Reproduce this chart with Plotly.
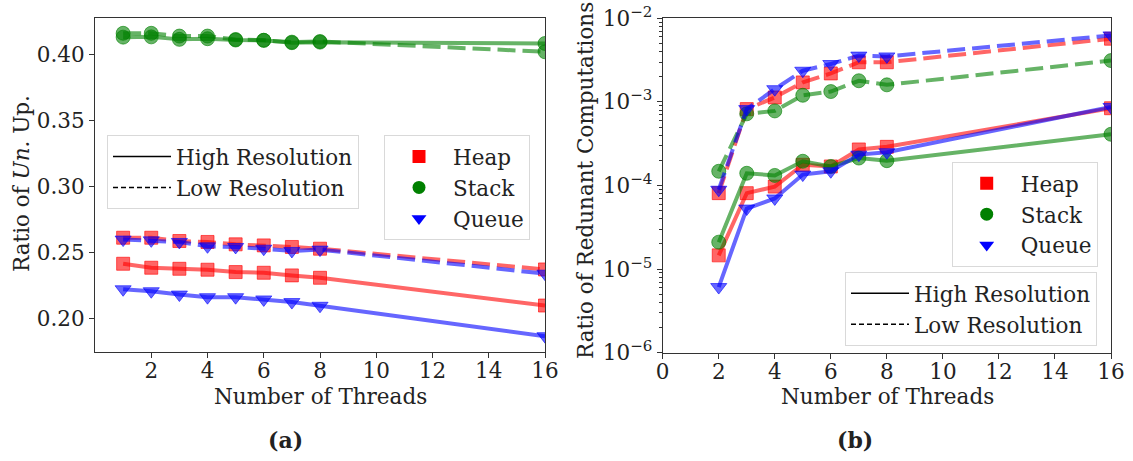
import plotly.graph_objects as go

# ---------------- data ----------------
threads_a = [1, 2, 3, 4, 5, 6, 7, 8, 16]
heap_high_a = [0.2413, 0.2383, 0.2375, 0.2368, 0.2350, 0.2345, 0.2325, 0.2307, 0.2097]
heap_low_a = [0.2610, 0.2610, 0.2585, 0.2578, 0.2560, 0.2552, 0.2540, 0.2527, 0.2370]
stack_high_a = [0.4128, 0.4130, 0.4111, 0.4116, 0.4106, 0.4104, 0.4086, 0.4090, 0.4080]
stack_low_a = [0.4157, 0.4157, 0.4136, 0.4136, 0.4110, 0.4104, 0.4090, 0.4095, 0.4017]
queue_high_a = [0.2220, 0.2205, 0.2180, 0.2160, 0.2160, 0.2143, 0.2123, 0.2095, 0.1865]
queue_low_a = [0.2596, 0.2590, 0.2578, 0.2545, 0.2540, 0.2527, 0.2510, 0.2520, 0.2338]

threads_b = [2, 3, 4, 5, 6, 7, 8, 16]
heap_high_b = [1.46e-5, 8.1e-5, 9.7e-5, 1.77e-4, 1.69e-4, 2.7e-4, 2.9e-4, 8.4e-4]
stack_high_b = [2.1e-5, 1.4e-4, 1.32e-4, 1.95e-4, 1.69e-4, 2.13e-4, 1.98e-4, 4.1e-4]
queue_high_b = [6.1e-6, 5.3e-5, 7.0e-5, 1.35e-4, 1.48e-4, 2.34e-4, 2.5e-4, 8.7e-4]
heap_low_b = [8.1e-5, 8.2e-4, 1.13e-3, 1.71e-3, 2.19e-3, 2.98e-3, 2.98e-3, 5.7e-3]
stack_low_b = [1.48e-4, 7.2e-4, 7.8e-4, 1.2e-3, 1.33e-3, 1.79e-3, 1.6e-3, 3.12e-3]
queue_low_b = [8.9e-5, 8.2e-4, 1.42e-3, 2.36e-3, 2.84e-3, 3.58e-3, 3.5e-3, 6.24e-3]

xticks_a = [2, 4, 6, 8, 10, 12, 14, 16]
xticks_b = [0, 2, 4, 6, 8, 10, 12, 14, 16]
yticks_a = [0.20, 0.25, 0.30, 0.35, 0.40]
yticks_b = [1e-6, 1e-5, 1e-4, 1e-3, 1e-2]
yticktext_b = ["10<sup>\u22126</sup>", "10<sup>\u22125</sup>", "10<sup>\u22124</sup>",
               "10<sup>\u22123</sup>", "10<sup>\u22122</sup>"]
decades_b = [1e-6, 1e-5, 1e-4, 1e-3]
minor_mult_b = [2, 3, 4, 5, 6, 7, 8, 9]

structures = ["Heap", "Stack", "Queue"]
colors = {"Heap": "255,0,0", "Stack": "0,128,0", "Queue": "0,0,255"}
symbols = {"Heap": "square", "Stack": "circle", "Queue": "triangle-down"}
msize = {"Heap": 13, "Stack": 14, "Queue": 14}

FONT = "DejaVu Serif"
FS = 21.5
TXT = "#222222"
AX = "#333333"

fig = go.Figure()

series_a = {
    "Heap": (heap_high_a, heap_low_a),
    "Stack": (stack_high_a, stack_low_a),
    "Queue": (queue_high_a, queue_low_a),
}
series_b = {
    "Heap": (heap_high_b, heap_low_b),
    "Stack": (stack_high_b, stack_low_b),
    "Queue": (queue_high_b, queue_low_b),
}


def add_series(xs, ys, s, dash, xa, ya):
    c = colors[s]
    fig.add_trace(go.Scatter(
        x=xs, y=ys, mode="lines+markers", xaxis=xa, yaxis=ya, showlegend=False,
        line=dict(color=f"rgba({c},0.6)", width=4, dash=dash),
        marker=dict(symbol=symbols[s], size=msize[s], color=f"rgba({c},0.6)",
                    line=dict(color=f"rgba({c},0.6)", width=1)),
    ))


for s in structures:
    hi, lo = series_a[s]
    add_series(threads_a, hi, s, "solid", "x", "y")
    add_series(threads_a, lo, s, "18px,7px", "x", "y")
    hi, lo = series_b[s]
    add_series(threads_b, hi, s, "solid", "x2", "y2")
    add_series(threads_b, lo, s, "18px,7px", "x2", "y2")

# legend entries
for leg, xa, ya in [("legend", "x", "y"), ("legend4", "x2", "y2")]:
    fig.add_trace(go.Scatter(x=[None], y=[None], mode="lines", name="High Resolution",
                             line=dict(color="black", width=1.5), legend=leg,
                             xaxis=xa, yaxis=ya))
    fig.add_trace(go.Scatter(x=[None], y=[None], mode="lines", name="Low Resolution",
                             line=dict(color="black", width=1.5, dash="5px,3px"),
                             legend=leg, xaxis=xa, yaxis=ya))
for leg, xa, ya in [("legend2", "x", "y"), ("legend3", "x2", "y2")]:
    for s in structures:
        fig.add_trace(go.Scatter(x=[None], y=[None], mode="markers", name=s,
                                 marker=dict(symbol=symbols[s], size=13,
                                             color=f"rgb({colors[s]})"),
                                 legend=leg, xaxis=xa, yaxis=ya))

W, H = 1133, 461
legend_style = dict(bgcolor="white", bordercolor="#d9d9d9", borderwidth=1,
                    font=dict(family=FONT, size=FS, color=TXT),
                    xanchor="left", yanchor="top", itemwidth=58)

axis_common = dict(showline=True, mirror=True, linecolor=AX, linewidth=1,
                   ticks="outside", ticklen=5, tickcolor=AX, showgrid=False,
                   zeroline=False, automargin=False,
                   tickfont=dict(family=FONT, size=FS, color=TXT))


def px(x, y):
    return x / W, 1 - y / H


def label(text, x, y, angle=0, size=FS):
    xp, yp = px(x, y)
    return dict(text=text, x=xp, y=yp, xref="paper", yref="paper", showarrow=False,
                textangle=angle, xanchor="center", yanchor="middle",
                font=dict(family=FONT, size=size, color=TXT))


fig.update_layout(
    width=W, height=H,
    margin=dict(l=0, r=0, t=0, b=0, autoexpand=False),
    paper_bgcolor="white", plot_bgcolor="white",
    font=dict(family=FONT, size=FS, color=TXT),
    xaxis=dict(domain=[95 / W, 545 / W], range=[0, 16], tickvals=xticks_a,
               anchor="y", ticklabelstandoff=-6, **axis_common),
    yaxis=dict(domain=[1 - 352.3 / H, 1 - 17.7 / H], range=[0.1743, 0.4275],
               tickvals=yticks_a, ticktext=[f"{v:.2f}" for v in yticks_a],
               anchor="x", **axis_common),
    xaxis2=dict(domain=[662.7 / W, 1111 / W], range=[0, 16], tickvals=xticks_b,
                anchor="y2", ticklabelstandoff=-6, **axis_common),
    yaxis2=dict(domain=[1 - 352.7 / H, 1 - 18.3 / H], type="log", range=[-6, -2],
                tickvals=yticks_b, ticktext=yticktext_b,
                minor=dict(tickmode="array",
                           tickvals=[m * d for d in decades_b for m in minor_mult_b],
                           ticks="outside", ticklen=3, tickcolor=AX, showgrid=False),
                anchor="x2", **axis_common),
    legend=dict(x=107 / W, y=1 - 135 / H, **legend_style),
    legend2=dict(x=384 / W, y=1 - 135 / H, **legend_style),
    legend3=dict(x=951.7 / W, y=1 - 161.7 / H, **legend_style),
    legend4=dict(x=845 / W, y=1 - 271.7 / H, **legend_style),
    annotations=[
        label("Number of Threads", 320, 396),
        label("Number of Threads", 887, 396),
        label("Ratio of <i>Un.</i> Up.", 21, 184, angle=-90),
        label("Ratio of Redunant Computations", 585, 181, angle=-90),
        label("<b>(a)</b>", 285, 440, size=22),
        label("<b>(b)</b>", 855, 440, size=22),
    ],
)

fig.write_html("out.html")
